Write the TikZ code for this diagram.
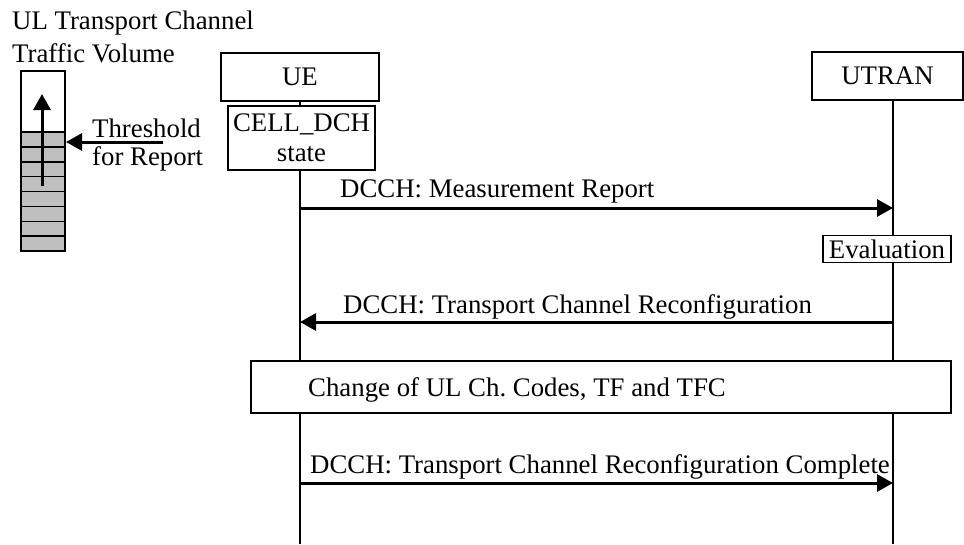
\documentclass[tikz,border=0pt]{standalone}
\usepackage{fontspec}
\setmainfont{Liberation Serif}
\usetikzlibrary{arrows.meta}
\begin{document}
\frenchspacing
\begin{tikzpicture}[x=1pt,y=-1pt,
  every node/.style={font=\fontsize{26.8}{30}\selectfont, inner sep=0pt},
  box/.style={draw, line width=1.5pt, fill=white},
  life/.style={line width=1.5pt},
  msg/.style={line width=3pt, -{Triangle[length=16pt,width=17pt]}},
  lbl/.style={anchor=base west}]
\useasboundingbox (0,0) rectangle (964,544);

% title
\node[lbl] (title1) at (12,29) {UL Transport Channel};
\node[lbl] (title2) at (12,62) {Traffic Volume};

% tank
\fill[gray!50] (21,132) rectangle (65,251);
\foreach \i in {1,...,7} {
  \draw[line width=1.5pt] (21,{132+\i*14.875}) -- (65,{132+\i*14.875});
}
\draw[line width=1.5pt] (21,132) -- (65,132);
\node[draw, line width=1.5pt, minimum width=44pt, minimum height=180pt] (tank) at (43,161) {};
\coordinate (fillbase) at (42,186);
\coordinate (filltop) at (42,94);
\draw[msg] (fillbase) -- (filltop);
\coordinate (thrtail) at (163,142);
\coordinate (thrtip) at (66,142);
\draw[msg] (thrtail) -- (thrtip);
\node[lbl] (thr1) at (92,137) {Threshold};
\node[lbl] (thr2) at (92,165) {for Report};

% lifelines
\coordinate (ueend) at (300,544);
\coordinate (utend) at (893,544);
\draw[life] (300,101) -- (ueend);
\draw[life] (893,100) -- (utend);

% entity boxes
\node[box, minimum width=158pt, minimum height=48pt] (ue) at (300,77) {UE};
\node[box, minimum width=147pt, minimum height=64pt, align=center] (cell) at (301.5,138) {CELL\_DCH\\state};
\node[box, minimum width=151pt, minimum height=48pt] (utran) at (887.5,76) {UTRAN};

% message 1
\coordinate (m1s) at (300,208);
\coordinate (m1e) at (893,208);
\draw[msg] (m1s) -- (m1e);
\node[lbl] (m1l) at (340,197) {DCCH: Measurement Report};

% evaluation
\node[box, minimum width=128pt, minimum height=27pt] (eval) at (887,249) {Evaluation};

% message 2
\coordinate (m2s) at (893,322);
\coordinate (m2e) at (300,322);
\draw[msg] (m2s) -- (m2e);
\node[lbl] (m2l) at (343,313) {DCCH: Transport Channel Reconfiguration};

% change box
\node[box, minimum width=700pt, minimum height=52pt] (chg) at (601,387) {};
\node[lbl] (chgl) at (308,396) {Change of UL Ch. Codes, TF and TFC};

% message 3
\coordinate (m3s) at (300,483);
\coordinate (m3e) at (893,483);
\draw[msg] (m3s) -- (m3e);
\node[lbl] (m3l) at (310,473) {DCCH: Transport Channel Reconfiguration Complete};
\end{tikzpicture}
\end{document}
